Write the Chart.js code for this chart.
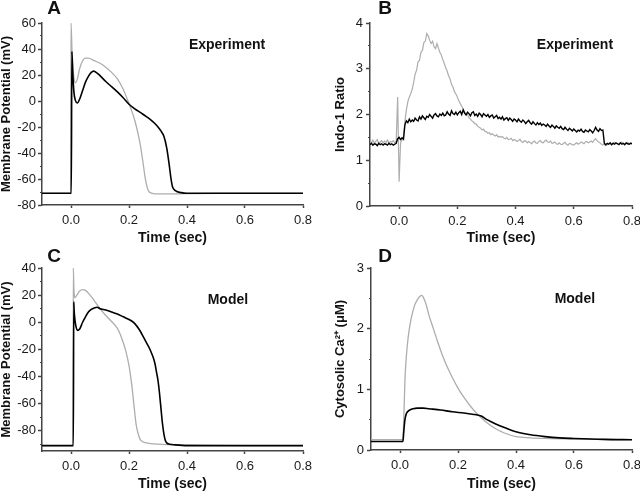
<!DOCTYPE html>
<html>
<head>
<meta charset="utf-8">
<script src="https://cdn.jsdelivr.net/npm/chart.js@4"></script>
<style>
  body { margin: 0; background: #fff; }
  #wrap { position: relative; width: 640px; height: 491px; }
  canvas { position: absolute; }
</style>
</head>
<body>
<div id="wrap">
  <canvas id="panelA" width="320" height="245" style="left:0;top:0"></canvas>
  <canvas id="panelB" width="320" height="245" style="left:320px;top:0"></canvas>
  <canvas id="panelC" width="320" height="246" style="left:0;top:245px"></canvas>
  <canvas id="panelD" width="320" height="246" style="left:320px;top:245px"></canvas>
</div>
<script>
// x tick labels (sec)
const timeTicks = [0.0, 0.2, 0.4, 0.6, 0.8];

// A: experiment, membrane potential (mV)
const aBlackT = [-0.1, 0.001, 0.003, 0.006, 0.01, 0.015, 0.022, 0.03, 0.04, 0.05, 0.06, 0.07, 0.078, 0.09, 0.1, 0.12, 0.14, 0.16, 0.18, 0.2, 0.22, 0.24, 0.26, 0.275, 0.29, 0.3, 0.31, 0.32, 0.33, 0.338, 0.345, 0.35, 0.36, 0.38, 0.4, 0.6, 0.8];
const aBlackV = [-71, -71, 38, 22, 7, 0.5, -1.5, 1.5, 8, 14.5, 19, 22, 23, 21.5, 19.5, 15, 11, 7, 2.5, -2.5, -6, -9, -12, -14.5, -17.5, -20, -23, -27, -36, -48, -60, -66, -69, -70.5, -71, -71, -71];
const aGrayT = [-0.1, -0.001, 0.0, 0.004, 0.01, 0.016, 0.022, 0.03, 0.04, 0.05, 0.06, 0.08, 0.1, 0.12, 0.14, 0.16, 0.18, 0.2, 0.21, 0.22, 0.23, 0.24, 0.25, 0.255, 0.26, 0.265, 0.27, 0.28, 0.3, 0.5, 0.8];
const aGrayV = [-71, -71, 60, 35, 18, 14, 17, 25, 31, 33, 33, 31, 29, 26, 22, 17, 9, -2, -8, -15, -24, -35, -50, -58, -64, -68, -70, -71, -71.5, -71, -71];

// B: experiment, Indo-1 ratio, sampled every 5 ms from -0.1 s
const bTime = Array.from({ length: 181 }, (_, i) => +(-0.1 + i * 0.005).toFixed(3));
const bGrayV = [
  1.42, 1.38, 1.44, 1.37, 1.41, 1.45, 1.36, 1.40, 1.43, 1.38,
  1.42, 1.39, 1.44, 1.37, 1.41, 1.40, 1.43, 1.38, 1.41, 2.38,
  0.53, 1.38, 1.44, 1.52, 1.85, 2.10, 2.28, 2.38, 2.46, 2.55,
  2.70, 2.88, 2.97, 3.15, 3.18, 3.36, 3.40, 3.57, 3.60, 3.77,
  3.72, 3.62, 3.55, 3.60, 3.48, 3.44, 3.55, 3.45, 3.36, 3.30,
  3.20, 3.12, 3.02, 2.95, 2.84, 2.78, 2.66, 2.60, 2.50, 2.45,
  2.38, 2.30, 2.24, 2.18, 2.12, 2.06, 2.02, 2.00, 1.93, 1.90,
  1.86, 1.84, 1.80, 1.79, 1.74, 1.72, 1.70, 1.66, 1.68, 1.63,
  1.62, 1.59, 1.60, 1.56, 1.58, 1.55, 1.53, 1.56, 1.51, 1.52,
  1.50, 1.52, 1.48, 1.47, 1.50, 1.45, 1.46, 1.48, 1.43, 1.45,
  1.44, 1.41, 1.43, 1.46, 1.41, 1.39, 1.43, 1.42, 1.38, 1.41,
  1.39, 1.36, 1.40, 1.42, 1.38, 1.37, 1.41, 1.43, 1.39, 1.38,
  1.42, 1.44, 1.40, 1.39, 1.42, 1.37, 1.38, 1.40, 1.36, 1.35,
  1.38, 1.35, 1.34, 1.37, 1.39, 1.35, 1.33, 1.37, 1.36, 1.34,
  1.33, 1.36, 1.38, 1.35, 1.37, 1.40, 1.38, 1.36, 1.40, 1.41,
  1.38, 1.40, 1.42, 1.39, 1.44, 1.47, 1.43, 1.40, 1.38, 1.35,
  1.33, 1.35, 1.32, 1.34, 1.37, 1.36, 1.34, 1.38, 1.39, 1.36,
  1.37, 1.35, 1.38, 1.40, 1.36, 1.35, 1.37, 1.39, 1.36, 1.38,
  1.37
];
const bBlackV = [
  1.34, 1.37, 1.33, 1.36, 1.35, 1.32, 1.37, 1.34, 1.36, 1.33,
  1.36, 1.35, 1.33, 1.37, 1.34, 1.36, 1.33, 1.35, 1.37, 1.47,
  1.50, 1.45, 1.49, 1.46, 1.78, 1.86, 1.82, 1.90, 1.84, 1.88,
  1.85, 1.92, 1.88, 1.86, 1.95, 1.90, 1.97, 1.93, 1.89, 1.96,
  1.94, 2.00, 1.96, 1.92, 1.99, 2.02, 1.97, 1.95, 2.01, 1.98,
  2.03, 1.97, 1.99, 2.06, 2.01, 1.98, 2.08, 2.02, 2.00, 2.05,
  1.99, 2.04, 2.07, 2.00, 2.10, 2.03, 1.99, 2.05, 2.02, 1.97,
  2.04, 2.06, 1.98, 2.01, 1.96, 2.03, 2.00, 1.95, 2.02, 1.99,
  1.96, 2.00, 1.94, 1.97, 1.99, 1.92, 1.95, 1.98, 1.91, 1.94,
  1.90, 1.95, 1.88, 1.91, 1.93, 1.87, 1.92, 1.89, 1.85, 1.90,
  1.88, 1.84, 1.90, 1.86, 1.83, 1.88, 1.85, 1.80, 1.84, 1.87,
  1.82, 1.79, 1.84, 1.80, 1.77, 1.82, 1.78, 1.81, 1.76, 1.79,
  1.77, 1.74, 1.79, 1.75, 1.72, 1.77, 1.74, 1.70, 1.75, 1.72,
  1.70, 1.74, 1.69, 1.67, 1.72, 1.68, 1.65, 1.70, 1.67, 1.64,
  1.68, 1.65, 1.62, 1.66, 1.64, 1.68, 1.63, 1.61, 1.66, 1.64,
  1.62, 1.67, 1.64, 1.60, 1.65, 1.72, 1.66, 1.63, 1.69, 1.65,
  1.66, 1.37, 1.34, 1.37, 1.35, 1.38, 1.34, 1.37, 1.35, 1.38,
  1.36, 1.34, 1.38, 1.35, 1.37, 1.34, 1.38, 1.36, 1.35, 1.37,
  1.36
];

// C: model, membrane potential (mV)
const cBlackT = [-0.1, 0.008, 0.0095, 0.011, 0.014, 0.018, 0.022, 0.03, 0.04, 0.05, 0.06, 0.07, 0.08, 0.09, 0.1, 0.12, 0.14, 0.16, 0.18, 0.2, 0.22, 0.24, 0.25, 0.26, 0.27, 0.28, 0.285, 0.29, 0.295, 0.3, 0.305, 0.31, 0.315, 0.32, 0.325, 0.33, 0.34, 0.36, 0.4, 0.6, 0.8];
const cBlackV = [-91, -91, 15, 8, 1, -4, -6, -5, 0, 4, 7.5, 9.5, 10.5, 11, 10, 9, 7.5, 6, 4, 2, -1, -7, -11, -15, -19, -24, -27, -31, -37, -43, -52, -63, -74, -82, -87, -89, -90, -90.5, -91, -91, -91];
const cGrayT = [-0.1, 0.007, 0.008, 0.01, 0.013, 0.02, 0.03, 0.04, 0.05, 0.06, 0.08, 0.1, 0.12, 0.14, 0.16, 0.17, 0.18, 0.19, 0.2, 0.205, 0.21, 0.215, 0.22, 0.225, 0.23, 0.24, 0.26, 0.3, 0.4, 0.6, 0.8];
const cGrayV = [-91, -91, 40, 25, 18, 20, 23, 24, 23.5, 21.5, 16, 10, 5, 0.5, -4.5, -9, -15, -22, -32, -39, -47, -57, -67, -76, -81, -87, -89, -90, -90.5, -91, -91];

// D: model, cytosolic Ca2+ (uM)
const dBlackT = [-0.1, 0.01, 0.013, 0.017, 0.022, 0.028, 0.034, 0.045, 0.06, 0.08, 0.1, 0.14, 0.18, 0.22, 0.25, 0.28, 0.3, 0.33, 0.36, 0.4, 0.45, 0.5, 0.55, 0.6, 0.7, 0.8];
const dBlackV = [0.14, 0.14, 0.3, 0.5, 0.6, 0.64, 0.66, 0.68, 0.69, 0.69, 0.68, 0.66, 0.63, 0.61, 0.59, 0.56, 0.5, 0.43, 0.37, 0.3, 0.25, 0.22, 0.2, 0.19, 0.175, 0.17];
const dGrayT = [-0.1, 0.01, 0.013, 0.017, 0.022, 0.028, 0.034, 0.04, 0.05, 0.06, 0.07, 0.075, 0.08, 0.09, 0.1, 0.115, 0.13, 0.145, 0.16, 0.18, 0.2, 0.22, 0.25, 0.28, 0.3, 0.33, 0.36, 0.4, 0.45, 0.5, 0.6, 0.7, 0.8];
const dGrayV = [0.17, 0.17, 0.5, 1.15, 1.55, 1.85, 2.05, 2.2, 2.38, 2.48, 2.54, 2.55, 2.52, 2.4, 2.22, 2.0, 1.78, 1.58, 1.4, 1.2, 1.02, 0.87, 0.68, 0.53, 0.45, 0.35, 0.28, 0.22, 0.2, 0.19, 0.18, 0.175, 0.17];

const FONT = "'Liberation Sans', Arial, sans-serif";
const AXIS = '#444';
Chart.defaults.font.family = FONT;
Chart.defaults.color = '#1a1a1a';

// letter + "Experiment"/"Model" caption
const panelText = {
  id: 'panelText',
  afterDraw(chart, args, opts) {
    const { ctx, chartArea, scales } = chart;
    ctx.save();
    ctx.fillStyle = '#111';
    ctx.textAlign = 'center';
    ctx.textBaseline = 'middle';
    ctx.font = 'bold 19px ' + FONT;
    ctx.fillText(opts.letter, chartArea.left + opts.letterDx, chartArea.top + opts.letterDy);
    ctx.font = 'bold 14px ' + FONT;
    ctx.fillText(opts.label, scales.x.getPixelForValue(opts.labelAt[0]), scales.y.getPixelForValue(opts.labelAt[1]));
    ctx.restore();
  }
};

function line(t, v, color, width) {
  return { data: t.map((x, i) => ({ x, y: v[i] })), borderColor: color, borderWidth: width };
}

// first series in the list is drawn on top
function makePanel(id, p) {
  return new Chart(document.getElementById(id), {
    type: 'line',
    data: {
      datasets: p.series.map(s => Object.assign(s, {
        pointRadius: 0,
        tension: 0,
        cubicInterpolationMode: p.smooth ? 'monotone' : 'default',
        yAxisID: 'y'
      }))
    },
    options: {
      responsive: false,
      animation: false,
      events: [],
      layout: { padding: { left: 0, right: p.padRight, top: 23, bottom: 0 } },
      plugins: {
        legend: { display: false },
        tooltip: { enabled: false },
        panelText: p.text
      },
      scales: {
        x: {
          type: 'linear', min: -0.1, max: 0.8,
          afterBuildTicks: s => { s.ticks = timeTicks.map(value => ({ value })); },
          afterFit: s => { s.height = p.xHeight; s.paddingLeft = 0; s.paddingRight = 0; },
          ticks: { callback: v => v.toFixed(1), padding: 5, font: { size: 13 }, maxRotation: 0, autoSkip: false },
          grid: { drawOnChartArea: false, tickLength: 3, tickColor: AXIS, tickWidth: 1.5 },
          border: { color: AXIS, width: 1.5 },
          title: { display: true, text: 'Time (sec)', color: '#111', padding: 0, font: { size: 14, weight: 'bold', lineHeight: 1 } }
        },
        y: {
          position: 'left', weight: 1, min: p.yMin, max: p.yMax,
          afterBuildTicks: s => { s.ticks = p.yMajor.map(value => ({ value })); },
          afterFit: s => { s.width = p.yWidth; s.paddingTop = 0; s.paddingBottom = 0; },
          ticks: { padding: p.yPad, font: { size: 13 } },
          grid: { drawOnChartArea: false, tickLength: 4, tickColor: AXIS, tickWidth: 1.5 },
          border: { color: AXIS, width: 1.5 },
          title: { display: true, text: p.yTitle, color: '#111', padding: { top: p.titlePad, bottom: 0 }, font: { size: 13, weight: 'bold', lineHeight: 1 } }
        },
        ym: {
          position: 'left', weight: 0, min: p.yMin, max: p.yMax,
          afterBuildTicks: s => { s.ticks = p.yMinor.map(value => ({ value })); },
          afterFit: s => { s.width = 0; s.paddingTop = 0; s.paddingBottom = 0; },
          ticks: { callback: () => '' },
          grid: { drawOnChartArea: false, tickLength: 2, tickColor: AXIS, tickWidth: 1.2 },
          border: { display: false }
        }
      }
    },
    plugins: [panelText]
  });
}

const BLACK = '#000', GRAY = '#adadad';

makePanel('panelA', {
  smooth: true, padRight: 17, xHeight: 40, yWidth: 42, yPad: 2, titlePad: 0,
  yMin: -80, yMax: 60, yMajor: [-80, -60, -40, -20, 0, 20, 40, 60], yMinor: [-70, -50, -30, -10, 10, 30, 50],
  yTitle: 'Membrane Potential (mV)',
  text: { letter: 'A', letterDx: 12, letterDy: -14, label: 'Experiment', labelAt: [0.538, 43] },
  series: [line(aBlackT, aBlackV, BLACK, 1.6), line(aGrayT, aGrayV, GRAY, 1.3)]
});

makePanel('panelB', {
  smooth: false, padRight: 8, xHeight: 39, yWidth: 50, yPad: 3, titlePad: 14,
  yMin: 0, yMax: 4, yMajor: [0, 1, 2, 3, 4], yMinor: [0.5, 1.5, 2.5, 3.5],
  yTitle: 'Indo-1 Ratio',
  text: { letter: 'B', letterDx: 15, letterDy: -14, label: 'Experiment', labelAt: [0.604, 3.52] },
  series: [line(bTime, bBlackV, BLACK, 1.4), line(bTime, bGrayV, GRAY, 1.2)]
});

makePanel('panelC', {
  smooth: true, padRight: 17, xHeight: 40, yWidth: 42, yPad: 2, titlePad: 0,
  yMin: -95, yMax: 40, yMajor: [-80, -60, -40, -20, 0, 20, 40], yMinor: [-90, -70, -50, -30, -10, 10, 30],
  yTitle: 'Membrane Potential (mV)',
  text: { letter: 'C', letterDx: 12, letterDy: -11, label: 'Model', labelAt: [0.541, 16.3] },
  series: [line(cBlackT, cBlackV, BLACK, 1.6), line(cGrayT, cGrayV, GRAY, 1.3)]
});

makePanel('panelD', {
  smooth: true, padRight: 8, xHeight: 41, yWidth: 51, yPad: 3, titlePad: 14,
  yMin: 0, yMax: 3, yMajor: [0, 1, 2, 3], yMinor: [0.5, 1.5, 2.5],
  yTitle: 'Cytosolic Ca²⁺ (μM)',
  text: { letter: 'D', letterDx: 14, letterDy: -11, label: 'Model', labelAt: [0.603, 2.49] },
  series: [line(dBlackT, dBlackV, BLACK, 1.6), line(dGrayT, dGrayV, GRAY, 1.3)]
});
</script>
</body>
</html>
